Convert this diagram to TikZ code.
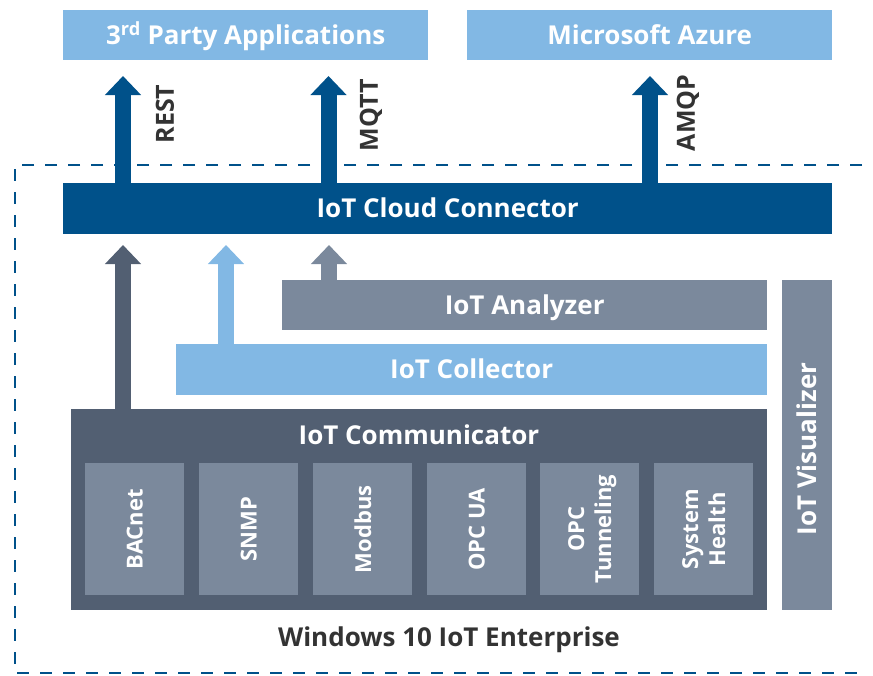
\documentclass[tikz,border=0pt]{standalone}
\usepackage{fontspec}
\setmainfont{Open Sans}
\usetikzlibrary{arrows.meta}
\definecolor{lblue}{HTML}{82B8E4}
\definecolor{dblue}{HTML}{00518A}
\definecolor{slate}{HTML}{525F72}
\definecolor{grayb}{HTML}{7B899C}
\definecolor{txt}{HTML}{333333}
\tikzset{
  bigfont/.style={font=\bfseries\fontsize{26}{30}\selectfont, text height=18.5pt, text depth=0pt},
  box/.style={draw=none, anchor=north west, inner sep=0pt, text=white, bigfont},
  sub/.style={box, fill=grayb, minimum width=99pt, minimum height=132pt},
  sublabel/.style={text=white, font=\bfseries\fontsize{22}{27}\selectfont, rotate=90, align=center, inner sep=0pt, text depth=0pt},
  proto/.style={text=txt, font=\bfseries\fontsize{25}{28}\selectfont, rotate=90, inner sep=0pt},
  blockarrow/.style={line width=16pt, -{Triangle[width=35pt,length=19pt]}},
}
\begin{document}
\begin{tikzpicture}[x=1pt,y=-1pt]
\useasboundingbox (0,0) rectangle (873,675);
% dashed frame
\draw[dblue, line width=2.7pt, dash pattern=on 12pt off 11pt] (862,165) -- (15,165) -- (15,673) -- (862,673);
% top boxes
\node[box, fill=lblue, minimum width=365pt, minimum height=50pt] (third) at (63,10) {3\textsuperscript{rd} Party Applications};
\node[box, fill=lblue, minimum width=365pt, minimum height=50pt] (azure) at (467,10) {Microsoft Azure};
% cloud connector
\node[box, fill=dblue, minimum width=769pt, minimum height=51pt] (conn) at (63,183) {IoT Cloud Connector};
% analyzer, collector
\node[box, fill=grayb, minimum width=485pt, minimum height=50pt] (anal) at (282,280) {IoT Analyzer};
\node[box, fill=lblue, minimum width=591pt, minimum height=51pt] (coll) at (176,344) {IoT Collector};
% communicator
\node[box, fill=slate, minimum width=696pt, minimum height=201pt] (comm) at (71,409) {};
\node[text=white, bigfont, inner sep=0pt] (commt) at (419,435) {IoT Communicator};
% visualizer
\node[box, fill=grayb, minimum width=50pt, minimum height=330pt] (vis) at (782,280) {};
\node[text=white, bigfont, rotate=90, inner sep=0pt] (vist) at (807,449) {IoT Visualizer};
% sub boxes
\node[sub] (s1) at (85,463) {};
\node[sub] (s2) at (199,463) {};
\node[sub] (s3) at (313,463) {};
\node[sub] (s4) at (427,463) {};
\node[sub] (s5) at (540,463) {};
\node[sub] (s6) at (654,463) {};
\node[sublabel] at (s1.center) {BACnet};
\node[sublabel] at (s2.center) {SNMP};
\node[sublabel] at (s3.center) {Modbus};
\node[sublabel] at (s4.center) {OPC UA};
\node[sublabel] at (s5.center) {OPC\\Tunneling};
\node[sublabel] at (s6.center) {System\\Health};
% windows label
\node[text=txt, bigfont, inner sep=0pt] (win) at (449,637) {Windows 10 IoT Enterprise};
% top arrows
\coordinate (t1) at (123,76);
\coordinate (t2) at (328.5,76);
\coordinate (t3) at (650,76);
\draw[blockarrow, dblue] (conn.north -| t1) -- (t1);
\draw[blockarrow, dblue] (conn.north -| t2) -- (t2);
\draw[blockarrow, dblue] (conn.north -| t3) -- (t3);
\node[proto] (rest) at (165,114) {REST};
\node[proto] (mqtt) at (371,115) {MQTT};
\node[proto] (amqp) at (688,113) {AMQP};
% lower arrows
\coordinate (u1) at (123,245);
\coordinate (u2) at (226,245);
\coordinate (u3) at (329,245);
\draw[blockarrow, slate] (comm.north -| u1) -- (u1);
\draw[blockarrow, lblue] (coll.north -| u2) -- (u2);
\draw[blockarrow, grayb] (anal.north -| u3) -- (u3);
\end{tikzpicture}
\end{document}
